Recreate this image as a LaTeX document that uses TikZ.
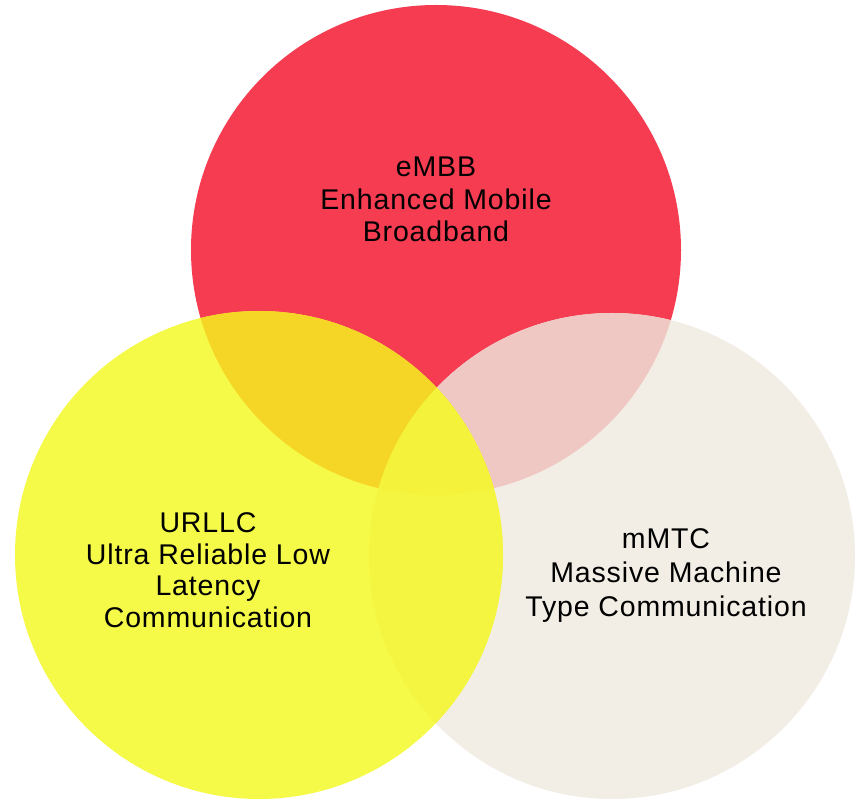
\documentclass[tikz,border=0pt]{standalone}
\usepackage{fontspec}
\setmainfont[LetterSpace=3]{Liberation Sans}
\definecolor{cred}{HTML}{F63C51}
\definecolor{cyellow}{HTML}{F5FA48}
\definecolor{cbeige}{HTML}{F2EEE5}
\definecolor{credyellow}{HTML}{F5D627}
\definecolor{credbeige}{HTML}{F0C8C3}
\definecolor{cyellowbeige}{HTML}{F4F540}
\definecolor{ctriple}{HTML}{F4F23B}
\tikzset{
  lbl/.style={anchor=base, inner sep=0pt, font=\fontsize{28.5}{33}\selectfont, text=black}
}
\begin{document}
\begin{tikzpicture}[x=1pt,y=-1pt]
\useasboundingbox (0,0) rectangle (855,799);
\def\redc{(436,250) circle (245)}
\def\yelc{(259,555) circle (244)}
\def\begc{(612,556) circle (243)}
% base circles
\fill[cred] \redc;
\fill[cbeige] \begc;
\begin{scope}
  \clip \redc;
  \fill[credbeige] \begc;
\end{scope}
\fill[cyellow] \yelc;
\begin{scope}
  \clip \yelc;
  \fill[credyellow] \redc;
  \fill[cyellowbeige] \begc;
  \clip \redc;
  \fill[ctriple] \begc;
\end{scope}
% labels
\node[lbl] (e1) at (436,177) {eMBB};
\node[lbl] (e2) at (436,210) {Enhanced Mobile};
\node[lbl] (e3) at (436,242) {Broadband};
\node[lbl] (u1) at (208,533) {URLLC};
\node[lbl] (u2) at (208,565) {Ultra Reliable Low};
\node[lbl] (u3) at (208,596) {Latency};
\node[lbl] (u4) at (208,627) {Communication};
\node[lbl] (m1) at (666,549) {mMTC};
\node[lbl] (m2) at (666,583) {Massive Machine};
\node[lbl] (m3) at (666,616) {Type Communication};
\end{tikzpicture}
\end{document}
